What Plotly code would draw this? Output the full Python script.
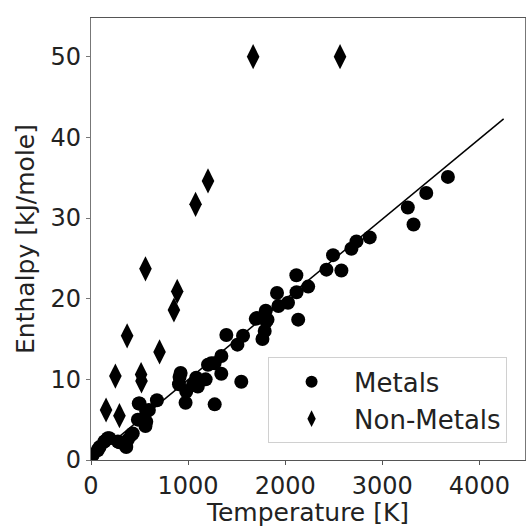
import plotly.graph_objects as go

metal_T = [17, 69, 88, 138, 173, 189, 277, 293, 363, 379, 414, 430, 483, 492, 500, 561, 569, 569, 596, 679,
           906, 912, 923, 974, 981, 1050, 1084, 1100, 1181, 1205, 1239, 1274, 1273, 1342, 1343, 1394, 1508,
           1548, 1566, 1697, 1709, 1766, 1789, 1800, 1806, 1818, 1916, 1930, 2029, 2115, 2117, 2134, 2237,
           2425, 2493, 2579, 2682, 2734, 2871, 3263, 3322, 3453, 3676]
metal_H = [0.6, 1.2, 1.6, 2.3, 2.7, 2.7, 2.3, 2.2, 1.6, 2.5, 3.1, 3.3, 5.0, 7.0, 7.0, 4.2, 4.75, 6.0, 6.2, 7.4,
           9.4, 10.3, 10.8, 7.1, 8.5, 9.3, 10.2, 9.1, 10.0, 11.8, 12.0, 6.9, 12.0, 10.7, 12.9, 15.5, 14.3,
           9.7, 15.4, 17.5, 17.6, 15.0, 16.0, 18.5, 17.2, 17.4, 20.7, 19.1, 19.5, 22.9, 20.8, 17.4, 21.5,
           23.6, 25.4, 23.5, 26.2, 27.1, 27.6, 31.3, 29.2, 33.1, 35.1]

nonmetal_T = [155, 251, 293, 372, 516, 520, 561, 706, 854, 888, 1077, 1205, 1670, 2565]
nonmetal_H = [6.2, 10.4, 5.5, 15.4, 10.6, 9.8, 23.7, 13.4, 18.6, 20.9, 31.7, 34.6, 50.0, 50.0]

fit_T = [0, 4250]
fit_H = [0, 42.3]

fig = go.Figure()
fig.add_trace(go.Scatter(x=metal_T, y=metal_H, mode="markers", name="Metals",
                         marker=dict(symbol="circle", size=14, color="black")))
fig.add_trace(go.Scatter(x=nonmetal_T, y=nonmetal_H, mode="markers", name="Non-Metals",
                         marker=dict(symbol="diamond-tall", size=18, color="black")))
fig.add_trace(go.Scatter(x=fit_T, y=fit_H, mode="lines", showlegend=False,
                         line=dict(color="black", width=1.5)))

font = "DejaVu Sans"
fig.update_layout(
    width=526, height=527,
    margin=dict(l=91, r=1, t=18, b=67),
    plot_bgcolor="white", paper_bgcolor="white",
    font=dict(family=font, size=24, color="#222"),
    showlegend=True,
    legend=dict(x=0.408, y=0.232, xanchor="left", yanchor="top",
                bordercolor="#d0d0d0", borderwidth=1, bgcolor="white",
                font=dict(size=26, color="#222"), itemsizing="constant",
                itemwidth=75),
    xaxis=dict(range=[0, 4470], tickvals=[0, 1000, 2000, 3000, 4000],
               title=dict(text="Temperature [K]", standoff=0, font=dict(size=25)),
               tickfont=dict(size=24),
               showgrid=False, zeroline=False, showline=True, linecolor="#555", linewidth=1.2,
               mirror=True, ticks="outside", ticklen=4, tickcolor="#555"),
    yaxis=dict(range=[0, 54.8], tickvals=[0, 10, 20, 30, 40, 50],
               title=dict(text="Enthalpy [kJ/mole]", standoff=8, font=dict(size=25)),
               tickfont=dict(size=24),
               showgrid=False, zeroline=False, showline=True, linecolor="#777", linewidth=1.2,
               mirror=True, ticks="outside", ticklen=4, tickcolor="#777"),
)
fig.write_html("out.html")
